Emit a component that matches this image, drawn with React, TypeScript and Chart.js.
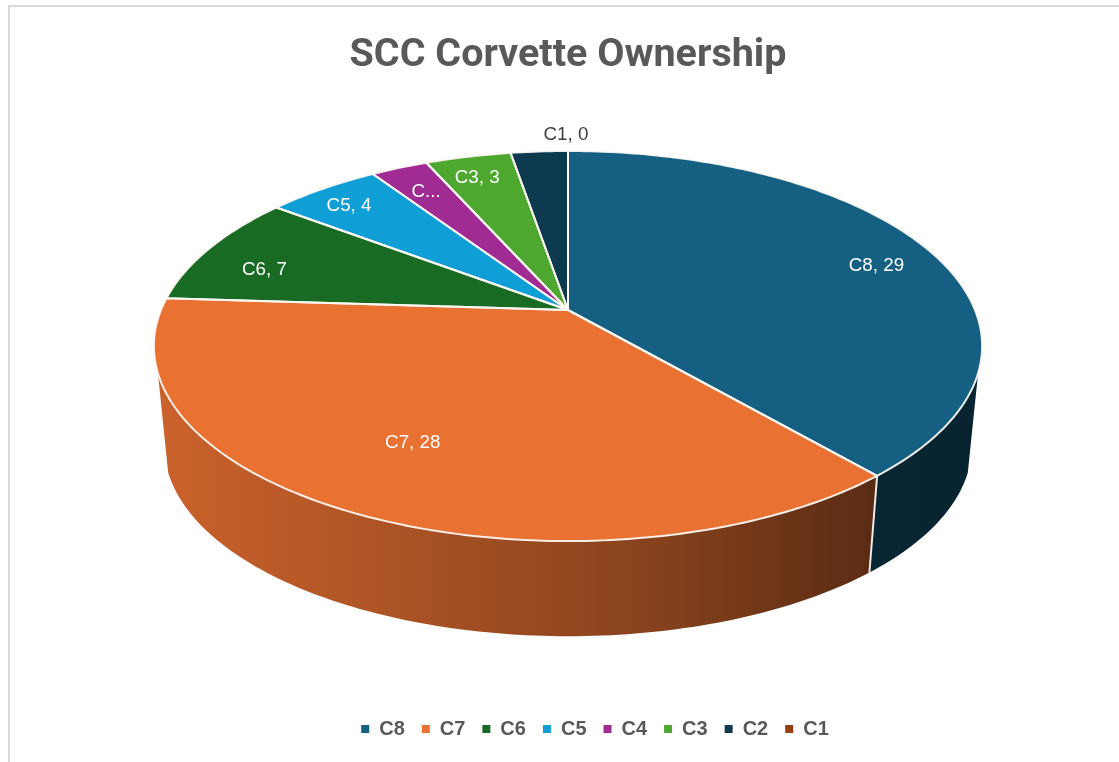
import React, { useEffect, useRef } from "react";
import { Chart, registerables } from "chart.js";

Chart.register(...registerables);

const categories = ["C8", "C7", "C6", "C5", "C4", "C3", "C2", "C1"];
const ownership = [29, 28, 7, 4, 2, 3, 2, 0];
const sliceLabels = ["C8, 29", "C7, 28", "C6, 7", "C5, 4", "C...", "C3, 3", "", "C1, 0"];
const sliceColors = ["#156082", "#E97132", "#196B24", "#0F9ED5", "#A02B93", "#4EA72E", "#0D3A4E", "#953F12"];
const chartTitle = "SCC Corvette Ownership";

// perspective view of the pie disc
const view = { cx: 568, apexY: 310, a: 407, b: 188.4, k: 0.1846, rimMidY: 346, baseMidY: 446, baseScale: 0.975 };
const wallFrom = (108.4 * Math.PI) / 180;
const wallTo = (251.6 * Math.PI) / 180;
const labelRadius = [0.85, 0.7, 0.83, 0.87, 0.82, 0.86, 0.8, 1.14];
const labelNudge = [[1, 9], [-12, -1], [-3, 12], [-2, 3], [0, 1], [-3, 2], [0, 0], [-2, 2]];
const legendShift = 27;

function rim(theta: number, r = 1) {
  const u = r * Math.sin(theta);
  const v = r * Math.cos(theta);
  const w = 1 + view.k * v;
  return { x: view.cx + (view.a * u) / w, y: view.apexY - (view.b * v) / w };
}
function base(theta: number) {
  const p = rim(theta);
  return {
    x: view.cx + (p.x - view.cx) * view.baseScale,
    y: view.baseMidY + (p.y - view.rimMidY) * view.baseScale,
  };
}
function shade(hex: string, f: number) {
  const n = parseInt(hex.slice(1), 16);
  const c = [(n >> 16) & 255, (n >> 8) & 255, n & 255].map((x) => Math.round(x * f));
  return `rgb(${c[0]},${c[1]},${c[2]})`;
}

const pie3d = {
  id: "pie3d",
  afterLayout(chart: any) {
    chart.legend.left += legendShift;
    chart.legend.right += legendShift;
  },
  beforeDatasetsDraw(chart: any) {
    const ctx: CanvasRenderingContext2D = chart.ctx;
    const arcs = chart.getDatasetMeta(0).data;
    const edge = "rgba(255,250,245,0.92)";
    const spans = arcs.map((arc: any) => [arc.startAngle + Math.PI / 2, arc.endAngle + Math.PI / 2]);
    ctx.save();
    ctx.lineJoin = "round";

    // side wall
    spans.forEach(([s, e]: number[], i: number) => {
      const from = Math.max(s, wallFrom);
      const to = Math.min(e, wallTo);
      if (to <= from) return;
      const g = ctx.createLinearGradient(158, 0, 981, 0);
      g.addColorStop(0, shade(sliceColors[i], 0.87));
      g.addColorStop(0.36, shade(sliceColors[i], 0.7));
      g.addColorStop(0.6, shade(sliceColors[i], 0.58));
      g.addColorStop(0.865, shade(sliceColors[i], 0.39));
      g.addColorStop(1, shade(sliceColors[i], 0.38));
      ctx.beginPath();
      const steps = Math.ceil(((to - from) * 180) / Math.PI);
      for (let t = 0; t <= steps; t++) {
        const p = rim(from + ((to - from) * t) / steps);
        t ? ctx.lineTo(p.x, p.y) : ctx.moveTo(p.x, p.y);
      }
      for (let t = steps; t >= 0; t--) {
        const p = base(from + ((to - from) * t) / steps);
        ctx.lineTo(p.x, p.y);
      }
      ctx.closePath();
      ctx.fillStyle = g;
      ctx.fill();
    });
    // wall dividers
    spans.forEach(([s]: number[]) => {
      if (s <= wallFrom || s >= wallTo) return;
      const a = rim(s);
      const b = base(s);
      ctx.beginPath();
      ctx.moveTo(a.x, a.y);
      ctx.lineTo(b.x, b.y);
      ctx.strokeStyle = edge;
      ctx.lineWidth = 2;
      ctx.stroke();
    });

    // top face
    spans.forEach(([s, e]: number[], i: number) => {
      if (e - s < 1e-6) return;
      const steps = Math.ceil(((e - s) * 180) / Math.PI);
      ctx.beginPath();
      const c = rim(0, 0);
      ctx.moveTo(c.x, c.y);
      for (let t = 0; t <= steps; t++) {
        const p = rim(s + ((e - s) * t) / steps);
        ctx.lineTo(p.x, p.y);
      }
      ctx.closePath();
      ctx.fillStyle = sliceColors[i];
      ctx.fill();
    });
    spans.forEach(([s, e]: number[]) => {
      if (e - s < 1e-6) return;
      const steps = Math.ceil(((e - s) * 180) / Math.PI);
      ctx.beginPath();
      const c = rim(0, 0);
      ctx.moveTo(c.x, c.y);
      for (let t = 0; t <= steps; t++) {
        const p = rim(s + ((e - s) * t) / steps);
        ctx.lineTo(p.x, p.y);
      }
      ctx.closePath();
      ctx.strokeStyle = edge;
      ctx.lineWidth = 2;
      ctx.stroke();
    });

    // data labels
    ctx.font = '18.8px "Liberation Sans"';
    ctx.textAlign = "center";
    ctx.textBaseline = "middle";
    spans.forEach(([s, e]: number[], i: number) => {
      if (!sliceLabels[i]) return;
      const p = rim((s + e) / 2, labelRadius[i]);
      ctx.fillStyle = ownership[i] === 0 ? "#404040" : "#ffffff";
      ctx.fillText(sliceLabels[i], p.x + labelNudge[i][0], p.y + labelNudge[i][1]);
    });
    ctx.restore();
    return false;
  },
};

export default function App() {
  const ref = useRef<HTMLCanvasElement>(null);
  useEffect(() => {
    document.body.style.margin = "0";
    document.body.style.background = "#ffffff";
    const chart = new Chart(ref.current!, {
      type: "pie",
      data: {
        labels: categories,
        datasets: [{ data: ownership, backgroundColor: sliceColors, borderWidth: 0 }],
      },
      plugins: [pie3d],
      options: {
        responsive: false,
        animation: false,
        layout: { padding: { left: 17, bottom: 13 } },
        plugins: {
          tooltip: { enabled: false },
          title: {
            display: true,
            text: chartTitle,
            color: "#595959",
            font: { family: "Roboto", size: 39.5, weight: "bold" },
            padding: { top: 32, bottom: 10 },
          },
          legend: {
            position: "bottom",
            labels: {
              usePointStyle: true,
              pointStyle: "rect",
              boxWidth: 8,
              boxHeight: 8,
              padding: 17,
              color: "#595959",
              font: { family: "Liberation Sans", size: 20, weight: "bold" },
            },
          },
        },
      },
    } as any);
    return () => chart.destroy();
  }, []);
  return (
    <div style={{ position: "relative", width: 1119, height: 762, overflow: "hidden", background: "#fff" }}>
      <div
        style={{
          position: "absolute",
          left: 8,
          top: 5,
          right: 0,
          bottom: 0,
          borderLeft: "2px solid #d9d9d9",
          borderTop: "2px solid #d9d9d9",
        }}
      />
      <canvas ref={ref} width={1119} height={762} style={{ position: "absolute", left: 0, top: 0, display: "block" }} />
    </div>
  );
}
